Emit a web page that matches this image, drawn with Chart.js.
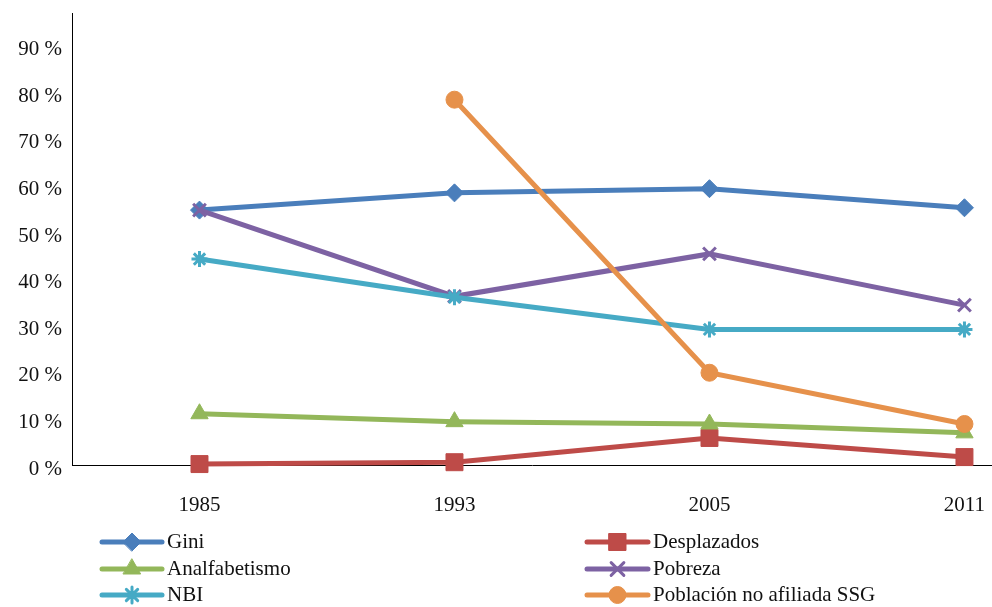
<!DOCTYPE html>
<html>
<head>
<meta charset="utf-8">
<script src="https://cdn.jsdelivr.net/npm/chart.js@4"></script>
<style>
  html, body { margin: 0; padding: 0; background: #fff; }
  #wrap { width: 992px; height: 607px; }
</style>
</head>
<body>
<div id="wrap"><canvas id="c" width="992" height="607"></canvas></div>
<script>
const years = ['1985', '1993', '2005', '2011'];
const gini = [54.7, 58.4, 59.3, 55.2];
const desplazados = [0.2, 0.6, 5.8, 1.7];
const analfabetismo = [11.0, 9.3, 8.8, 6.9];
const pobreza = [54.7, 36.2, 45.3, 34.3];
const nbi = [44.2, 36.0, 29.1, 29.1];
const poblacionNoAfiliada = [null, 78.4, 19.8, 8.8];

const FONT = "'Liberation Serif', 'DejaVu Serif', serif";

const toPts = arr => arr.map((v, i) => ({ x: i, y: v }));

const series = [
    { label: 'Gini', data: gini, color: '#4A7EBB', style: 'rectRot', r: 9, bw: 1 },
    { label: 'Desplazados', data: desplazados, color: '#BE4B48', style: 'rect', r: 12, bw: 1 },
    { label: 'Analfabetismo', data: analfabetismo, color: '#93B75A', style: 'triangle', r: 10, bw: 1 },
    { label: 'Pobreza', data: pobreza, color: '#7D62A3', style: 'crossRot', r: 9, bw: 3 },
    { label: 'NBI', data: nbi, color: '#46AAC5', style: 'star', r: 8, bw: 3 },
    { label: 'Población no afiliada SSG', data: poblacionNoAfiliada, color: '#E6914B', style: 'circle', r: 8.5, bw: 1 }
];

// legend drawn in two columns below the axis
const legendPlugin = {
    id: 'twoColLegend',
    afterDraw(chart) {
        const ctx = chart.ctx;
        const cols = [{ x0: 102, x1: 162, tx: 167 }, { x0: 587, x1: 648, tx: 653 }];
        const rows = [542, 569, 595];
        chart.data.datasets.forEach((ds, i) => {
            const col = cols[i % 2];
            const y = rows[Math.floor(i / 2)];
            ctx.save();
            ctx.strokeStyle = ds.borderColor;
            ctx.lineWidth = 5;
            ctx.lineCap = 'round';
            ctx.beginPath();
            ctx.moveTo(col.x0, y);
            ctx.lineTo(col.x1, y);
            ctx.stroke();
            ctx.fillStyle = ds.pointBackgroundColor;
            ctx.strokeStyle = ds.pointBorderColor;
            ctx.lineWidth = ds.pointBorderWidth;
            Chart.helpers.drawPoint(ctx, {
                pointStyle: ds.pointStyle,
                radius: ds.pointRadius,
                borderWidth: ds.pointBorderWidth,
                rotation: 0
            }, (col.x0 + col.x1) / 2, y);
            ctx.fillStyle = '#111';
            ctx.font = '21px ' + FONT;
            ctx.textAlign = 'left';
            ctx.textBaseline = 'middle';
            ctx.fillText(ds.label, col.tx, y);
            ctx.restore();
        });
    }
};

const ctx = document.getElementById('c').getContext('2d');
const chart = new Chart(ctx, {
    type: 'line',
    data: {
        datasets: series.map((s, i) => ({
            label: s.label,
            data: toPts(s.data),
            borderColor: s.color,
            backgroundColor: s.color,
            borderWidth: 5,
            pointStyle: s.style,
            pointRadius: s.r,
            pointHoverRadius: s.r,
            pointBackgroundColor: s.color,
            pointBorderColor: s.color,
            pointBorderWidth: s.bw,
            tension: 0,
            spanGaps: false,
            clip: false,
            order: series.length - i
        }))
    },
    options: {
        responsive: false,
        animation: false,
        layout: {
            autoPadding: false,
            padding: { top: 13, right: 0, bottom: 0, left: 0 }
        },
        plugins: {
            legend: { display: false },
            tooltip: { enabled: false }
        },
        scales: {
            x: {
                type: 'linear',
                min: -0.5,
                max: 3.108,
                afterBuildTicks: (scale) => {
                    scale.ticks = years.map((y, i) => ({ value: i }));
                },
                afterFit: (scale) => {
                    scale.height = 142;
                    scale.paddingLeft = 0;
                    scale.paddingRight = 0;
                },
                grid: {
                    display: false,
                    drawTicks: false
                },
                border: { display: true, color: '#000', width: 1 },
                ticks: {
                    padding: 28,
                    maxRotation: 0,
                    color: '#111',
                    font: { family: FONT, size: 21 },
                    callback: (v) => years[v] !== undefined ? years[v] : ''
                }
            },
            y: {
                min: 0,
                max: 97,
                afterFit: (scale) => {
                    scale.width = 72;
                    scale.paddingTop = 0;
                    scale.paddingBottom = 0;
                },
                grid: {
                    display: false,
                    drawTicks: false
                },
                border: { display: true, color: '#000', width: 1 },
                ticks: {
                    stepSize: 10,
                    includeBounds: false,
                    padding: 10,
                    labelOffset: 4,
                    color: '#111',
                    font: { family: FONT, size: 21 },
                    callback: (v) => v + ' %'
                }
            }
        }
    },
    plugins: [legendPlugin]
});
</script>
</body>
</html>
